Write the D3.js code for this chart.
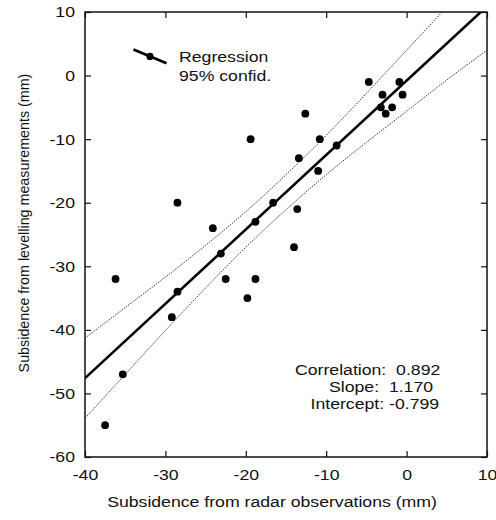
<!DOCTYPE html>
<html>
<head>
<meta charset="utf-8">
<script src="https://cdn.jsdelivr.net/npm/d3@7"></script>
<style>
  body { margin: 0; background: #fff; }
  svg text { font-family: "Liberation Sans", Arial, sans-serif; fill: #111; white-space: pre; }
</style>
</head>
<body>
<div id="chart"></div>
<script>
// radar (x) vs levelling (y) subsidence, mm
const radarVals = [-4.7, -0.9, -3.0, -0.5, -3.2, -1.8, -2.6, -12.6, -19.4, -10.8, -8.7, -13.4, -11.0, -28.5,
  -16.6, -13.6, -24.1, -18.8, -23.1, -14.0, -36.2, -22.5, -18.8, -28.5, -19.8, -29.2, -35.3, -37.5];
const levelVals = [-1, -1, -3, -3, -5, -5, -6, -6, -10, -10, -11, -13, -15, -20,
  -20, -21, -24, -23, -28, -27, -32, -32, -32, -34, -35, -38, -47, -55];

// 95% confidence band
const bandX = [-40, -35, -30, -25, -20, -15, -10, -5, 0, 5, 10];
const bandUpper = [-41.3, -36.5, -31.7, -26.7, -21.4, -15.6, -9.4, -2.8, 4.0, 10.8, 17.8];
const bandLower = [-53.9, -47.0, -40.1, -33.4, -27.0, -21.1, -15.6, -10.5, -5.6, -0.7, 4.0];

const slope = 1.170;
const intercept = -0.799;
const statLines = ["Correlation:  0.892", "Slope:  1.170", "Intercept: -0.799"];

const xTicks = [-40, -30, -20, -10, 0, 10];
const yTicks = [-60, -50, -40, -30, -20, -10, 0, 10];

const svgWidth = 496;
const svgHeight = 520;
const plot = { left: 85, right: 487, top: 12, bottom: 457 };
const sx = 1.14; // horizontal stretch of the original lettering

const svg = d3.select("#chart")
  .append("svg")
  .attr("width", svgWidth)
  .attr("height", svgHeight);

const x = d3.scaleLinear().domain([-40, 10]).range([plot.left, plot.right]);
const y = d3.scaleLinear().domain([-60, 10]).range([plot.bottom, plot.top]);

svg.append("clipPath").attr("id", "clip")
  .append("rect")
  .attr("x", plot.left).attr("y", plot.top)
  .attr("width", plot.right - plot.left).attr("height", plot.bottom - plot.top);

// axes, ticks pointing inward on all four sides
const plainNum = d => String(d); // plain hyphen, not the unicode minus

const axisBottom = svg.append("g")
  .attr("transform", `translate(0, ${plot.bottom})`)
  .call(d3.axisBottom(x).tickValues(xTicks).tickSizeInner(-6).tickSizeOuter(0).tickFormat(plainNum));
axisBottom.selectAll(".tick text")
  .attr("y", 23).attr("dy", 0)
  .attr("transform", `scale(${sx},1)`)
  .style("font-size", "15.5px");

const axisLeft = svg.append("g")
  .attr("transform", `translate(${plot.left}, 0)`)
  .call(d3.axisLeft(y).tickValues(yTicks).tickSizeInner(-6).tickSizeOuter(0).tickFormat(plainNum));
axisLeft.selectAll(".tick text")
  .attr("x", 0).attr("dy", "0.32em")
  .attr("transform", `translate(-10,0) scale(${sx},1)`)
  .style("font-size", "15.5px");

svg.append("g")
  .attr("transform", `translate(0, ${plot.top})`)
  .call(d3.axisTop(x).tickValues(xTicks).tickSizeInner(-6).tickSizeOuter(0).tickFormat(""));
svg.append("g")
  .attr("transform", `translate(${plot.right}, 0)`)
  .call(d3.axisRight(y).tickValues(yTicks).tickSizeInner(-6).tickSizeOuter(0).tickFormat(""));

svg.selectAll(".domain").remove();
svg.selectAll(".tick line").attr("stroke", "#111").attr("stroke-width", 1.2);

svg.append("rect")
  .attr("x", plot.left).attr("y", plot.top)
  .attr("width", plot.right - plot.left).attr("height", plot.bottom - plot.top)
  .attr("fill", "none")
  .attr("stroke", "#111")
  .attr("stroke-width", 1.5);

// confidence band
const chartArea = svg.append("g").attr("clip-path", "url(#clip)");
const bandLine = d3.line().curve(d3.curveNatural);

[bandUpper, bandLower].forEach(vals => {
  chartArea.append("path")
    .attr("d", bandLine(bandX.map((bx, i) => [x(bx), y(vals[i])])))
    .attr("fill", "none")
    .attr("stroke", "#222")
    .attr("stroke-width", 0.9)
    .attr("stroke-dasharray", "1.5,1.2");
});

// regression line
const xDomain = x.domain();
chartArea.append("line")
  .attr("x1", x(xDomain[0])).attr("y1", y(slope * xDomain[0] + intercept))
  .attr("x2", x(xDomain[1])).attr("y2", y(slope * xDomain[1] + intercept))
  .attr("stroke", "#000")
  .attr("stroke-width", 2.6);

// points
chartArea.selectAll("circle.pt")
  .data(radarVals)
  .enter()
  .append("circle")
  .attr("class", "pt")
  .attr("cx", d => x(d))
  .attr("cy", (d, i) => y(levelVals[i]))
  .attr("r", 3.9)
  .attr("fill", "#000");

// legend
const legend = svg.append("g");
legend.append("line")
  .attr("x1", 133.5).attr("y1", 49.5)
  .attr("x2", 166.5).attr("y2", 63.3)
  .attr("stroke", "#000").attr("stroke-width", 2.6);
legend.append("circle")
  .attr("cx", 150).attr("cy", 56.4).attr("r", 3.6).attr("fill", "#000");
legend.append("text")
  .attr("transform", `translate(179, 62) scale(${sx},1)`)
  .style("font-size", "15.5px")
  .text("Regression");
legend.append("text")
  .attr("transform", `translate(179, 81) scale(${sx},1)`)
  .style("font-size", "15.5px")
  .text("95% confid.");

// statistics
const statX = [295, 329, 310.5];
statLines.forEach((s, i) => {
  svg.append("text")
    .attr("transform", `translate(${statX[i]}, ${374.5 + i * 17})  scale(${sx},1)`)
    .style("font-size", "15.5px")
    .text(s);
});

// axis titles
svg.append("text")
  .attr("transform", `translate(272, 507) scale(${sx},1)`)
  .attr("text-anchor", "middle")
  .style("font-size", "15.5px")
  .text("Subsidence from radar observations (mm)");

svg.append("text")
  .attr("transform", "translate(28.5, 223) rotate(-90)")
  .attr("text-anchor", "middle")
  .style("font-size", "14.3px")
  .text("Subsidence from levelling measurements (mm)");
</script>
</body>
</html>
